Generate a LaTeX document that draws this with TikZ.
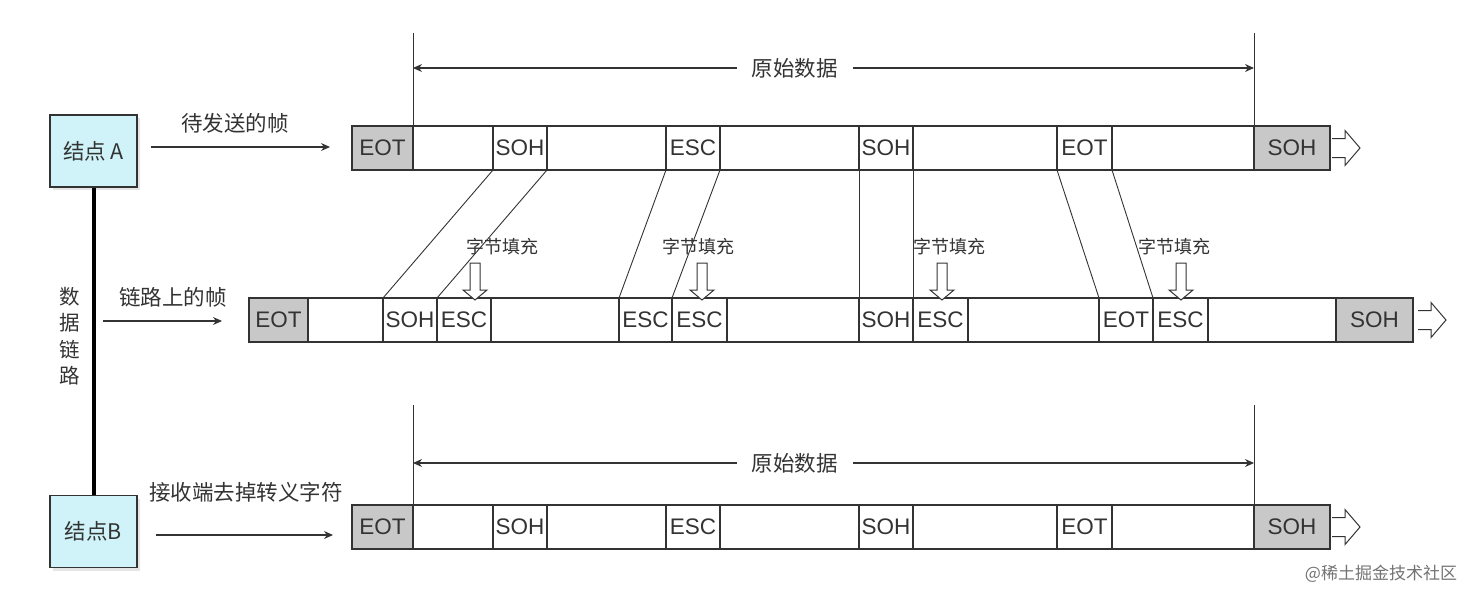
\documentclass[tikz,border=0pt]{standalone}
\usepackage{fontspec}
\setmainfont{Liberation Sans}
\newfontfamily\cjk{Noto Sans CJK SC}
\usetikzlibrary{arrows.meta,shadows}
\definecolor{nodefill}{HTML}{CFF3F8}
\definecolor{cellgrey}{HTML}{C8C8C8}
\definecolor{ink}{HTML}{333333}
\begin{document}
\begin{tikzpicture}[x=1pt,y=-1pt,
  frame/.style={draw=ink, line width=1.3pt, inner sep=0pt, outer sep=0pt, minimum height=44pt, fill=white},
  cell/.style={draw=ink, line width=1.1pt, inner sep=0pt, outer sep=0pt, minimum height=44pt, font=\fontsize{22.5}{26}\selectfont, text=ink},
  greycell/.style={cell, fill=cellgrey},
  nodebox/.style={draw=ink, line width=1.1pt, fill=nodefill, inner sep=0pt, minimum width=87pt, minimum height=72pt, font=\cjk\fontsize{21.5}{25}\selectfont, text=ink, drop shadow={shadow xshift=3pt, shadow yshift=-3pt, fill=black!20}},
  lbl/.style={font=\cjk\fontsize{21.5}{25}\selectfont, text=ink, inner sep=0pt},
  small/.style={font=\cjk\fontsize{18}{22}\selectfont, text=ink, inner sep=0pt},
  arr/.style={draw=ink, line width=1.1pt, -{Stealth[length=9pt,width=8pt]}},
  dimarr/.style={draw=ink, line width=1.1pt, {Stealth[length=9pt,width=8pt]}-{Stealth[length=9pt,width=8pt]}},
  thin/.style={draw=ink, line width=0.9pt},
  rarrow/.pic={\draw[ink, line width=1pt, fill=white] (0,-9.5) -- (13,-9.5) -- (13,-17.5) -- (28,0) -- (13,17.5) -- (13,9.5) -- (0,9.5);},
  darrow/.pic={\draw[ink, line width=1pt, fill=white] (-5,0) -- (5,0) -- (5,27) -- (12,27) -- (0,37) -- (-12,27) -- (-5,27) -- cycle;}
]
\useasboundingbox (0,0) rectangle (1480,602);

% nodes A and B
\node[nodebox] (A) at (93.5,151) {结点 A};
\node[nodebox] (B) at (93.5,531.5) {结点B};
\draw[line width=4pt, black] (A.south) -- (B.north);
\node[align=center, font=\cjk\fontsize{20.5}{26.5}\selectfont, text=ink, inner sep=0pt] (link) at (70,336) {数\\据\\链\\路};

% top row
\node[frame, minimum width=978pt] (tf) at (841,148) {};
\node[greycell, minimum width=61pt] (t1) at (382.5,148) {EOT};
\node[cell, minimum width=54pt] (t2) at (520,148) {SOH};
\node[cell, minimum width=54pt] (t3) at (693,148) {ESC};
\node[cell, minimum width=54pt] (t4) at (886,148) {SOH};
\node[cell, minimum width=55pt] (t5) at (1084.5,148) {EOT};
\node[greycell, minimum width=76pt] (t6) at (1292,148) {SOH};
\pic at ([xshift=2pt]tf.east) {rarrow};

% middle row
\node[frame, minimum width=1164pt] (mf) at (831,320) {};
\node[greycell, minimum width=59pt] (m1) at (278.5,320) {EOT};
\node[cell, minimum width=54pt] (m2) at (410,320) {SOH};
\node[cell, minimum width=54pt] (m3) at (464,320) {ESC};
\node[cell, minimum width=53pt] (m4) at (645.5,320) {ESC};
\node[cell, minimum width=55pt] (m5) at (699.5,320) {ESC};
\node[cell, minimum width=54pt] (m6) at (886,320) {SOH};
\node[cell, minimum width=55pt] (m7) at (940.5,320) {ESC};
\node[cell, minimum width=54pt] (m8) at (1126,320) {EOT};
\node[cell, minimum width=55pt] (m9) at (1180.5,320) {ESC};
\node[greycell, minimum width=77pt] (m10) at (1374.5,320) {SOH};
\pic at ([xshift=5pt]mf.east) {rarrow};

% bottom row
\node[frame, minimum width=978pt] (bf) at (841,527) {};
\node[greycell, minimum width=61pt] (b1) at (382.5,527) {EOT};
\node[cell, minimum width=54pt] (b2) at (520,527) {SOH};
\node[cell, minimum width=54pt] (b3) at (693,527) {ESC};
\node[cell, minimum width=54pt] (b4) at (886,527) {SOH};
\node[cell, minimum width=55pt] (b5) at (1084.5,527) {EOT};
\node[greycell, minimum width=76pt] (b6) at (1292,527) {SOH};
\pic at ([xshift=2pt]bf.east) {rarrow};

% connecting lines top -> middle
\draw[thin] (t2.south west) -- (m2.north west);
\draw[thin] (t2.south east) -- (m3.north west);
\draw[thin] (t3.south west) -- (m4.north west);
\draw[thin] (t3.south east) -- (m5.north west);
\draw[thin] (t4.south west) -- (m6.north west);
\draw[thin] (t4.south east) -- (m7.north west);
\draw[thin] (t5.south west) -- (m8.north west);
\draw[thin] (t5.south east) -- (m9.north west);

% byte stuffing labels and arrows
\node[small] (s1) at (502,247) {字节填充};
\node[small] (s2) at (698,247) {字节填充};
\node[small] (s3) at (949,247) {字节填充};
\node[small] (s4) at (1174,247) {字节填充};
\pic at (475,263) {darrow};
\pic at (702,263) {darrow};
\pic at (942,263) {darrow};
\pic at (1181,263) {darrow};

% original data, top
\coordinate (tl) at (413,33);
\coordinate (tr) at (1254,33);
\draw[thin] (tl) -- (t1.north east);
\draw[thin] (tr) -- (t6.north west);
\coordinate (dl) at (413,68);
\coordinate (dr) at (1254,68);
\draw[dimarr] (dl) -- node[pos=0.454, fill=white, inner xsep=15pt, inner ysep=2pt, font=\cjk\fontsize{21.5}{25}\selectfont, text=ink] (od1) {原始数据} (dr);

% original data, bottom
\coordinate (bl) at (413,405);
\coordinate (br) at (1254,405);
\draw[thin] (bl) -- (b1.north east);
\draw[thin] (br) -- (b6.north west);
\coordinate (el) at (413,463);
\coordinate (er) at (1254,463);
\draw[dimarr] (el) -- node[pos=0.454, fill=white, inner xsep=15pt, inner ysep=2pt, font=\cjk\fontsize{21.5}{25}\selectfont, text=ink] (od2) {原始数据} (er);

% side arrows and labels
\draw[arr, shorten <=13pt, shorten >=22pt] ([yshift=4pt]A.east) -- ([yshift=4pt]A.east -| t1.west);
\node[lbl] (la) at (235,123) {待发送的帧};
\coordinate (mL) at (103,321);
\draw[arr, shorten >=27pt] (mL) -- (mL -| m1.west);
\node[lbl] (lm) at (173,297) {链路上的帧};
\draw[arr, shorten <=18pt, shorten >=19pt] ([yshift=-3.5pt]B.east) -- ([yshift=-3.5pt]B.east -| b1.west);
\node[lbl] (lb) at (246,492) {接收端去掉转义字符};

% watermark
\node[font=\cjk\fontsize{17}{20}\selectfont, text=black!55, inner sep=0pt] (wm) at (1381,574) {@稀土掘金技术社区};
\end{tikzpicture}
\end{document}
